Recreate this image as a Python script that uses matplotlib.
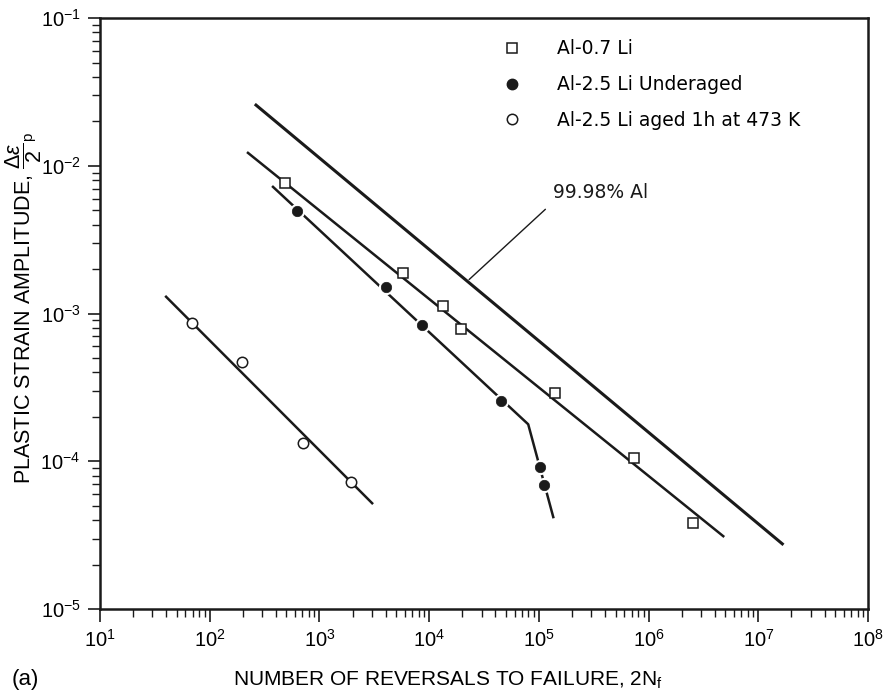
import numpy as np
import matplotlib.pyplot as plt
from matplotlib.lines import Line2D

plt.rcParams['font.family'] = ['Liberation Sans', 'DejaVu Sans']
plt.rcParams['mathtext.fontset'] = 'custom'
plt.rcParams['mathtext.rm'] = 'Liberation Sans'
plt.rcParams['mathtext.it'] = 'Liberation Sans:italic'

# Al-0.7 Li: test points and fitted line
li07_n = [485, 5780, 13400, 19500, 140500, 738000, 2.55e6]
li07_e = [7.68e-3, 1.89e-3, 1.13e-3, 7.92e-4, 2.88e-4, 1.05e-4, 3.81e-5]
li07_fit_n = [223, 4.78e6]
li07_fit_e = [1.225e-2, 3.11e-5]

# Al-2.5 Li underaged: points and bilinear fit
ua_n = [625, 4050, 8600, 45200, 102600, 111500]
ua_e = [4.97e-3, 1.52e-3, 8.43e-4, 2.54e-4, 9.1e-5, 6.9e-5]
ua_fit_n = [377, 79800, 135000]
ua_fit_e = [7.21e-3, 1.78e-4, 4.19e-5]

# Al-2.5 Li aged 1h at 473 K
aged_n = [69, 197, 710, 1940]
aged_e = [8.7e-4, 4.67e-4, 1.34e-4, 7.2e-5]
aged_fit_n = [40, 3020]
aged_fit_e = [1.30e-3, 5.2e-5]

# 99.98% Al reference line
pure_n = [264, 1.65e7]
pure_e = [2.58e-2, 2.76e-5]

INK = '#1a1a1a'
wide = 'DejaVu Sans'

fig = plt.figure(figsize=(8.85, 6.91), dpi=100)
ax = fig.add_axes([0.113, 0.1187, 0.868, 0.855])

ax.plot(pure_n, pure_e, color=INK, lw=2.2)
ax.plot(li07_fit_n, li07_fit_e, color=INK, lw=1.8)
ax.plot(ua_fit_n, ua_fit_e, color=INK, lw=1.8)
ax.plot(aged_fit_n, aged_fit_e, color=INK, lw=1.8)

# open symbols cover the line with white fill
ax.plot(li07_n, li07_e, ls='none', marker='s', ms=7.5, mfc='white', mec=INK, mew=1.1)
ax.plot(aged_n, aged_e, ls='none', marker='o', ms=7.5, mfc='white', mec=INK, mew=1.1)
# filled symbols get a white halo so the line breaks around them
ax.plot(ua_n, ua_e, ls='none', marker='o', ms=11, mfc='white', mec='white', mew=0)
ax.plot(ua_n, ua_e, ls='none', marker='o', ms=7.5, mfc=INK, mec=INK, mew=0.5)

ax.annotate('99.98% Al', xy=(23100, 1.70e-3), xytext=(1.35e5, 6.6e-3),
            fontsize=13.5, family=wide, color=INK, va='center', ha='left',
            arrowprops=dict(arrowstyle='-', color=INK, lw=1.0, shrinkA=5, shrinkB=0,
                            relpos=(0, 0.0)))

ax.set_xscale('log')
ax.set_yscale('log')
ax.set_xlim(10, 1e8)
ax.set_ylim(1e-5, 1e-1)

for s in ['left', 'bottom', 'top', 'right']:
    ax.spines[s].set_linewidth(1.8)
    ax.spines[s].set_color(INK)
ax.tick_params(which='both', direction='out', top=False, right=False, color=INK,
               labelsize=14.5, pad=5)
ax.tick_params(which='major', length=9, width=1.2)
ax.tick_params(which='minor', length=6, width=1.0)

ax.set_xlabel('NUMBER OF REVERSALS TO FAILURE, 2N$_\\mathrm{f}$', fontsize=15)
ax.xaxis.set_label_coords(0.453, -0.120)
ax.xaxis.label.set_va('center')
ax.set_ylabel('PLASTIC STRAIN AMPLITUDE, $\\dfrac{\\Delta\\varepsilon}{2}_{\\mathrm{p}}$',
              fontsize=15.5)
ax.yaxis.set_label_coords(-0.1, 0.51)
ax.yaxis.label.set_va('center')
fig.text(0.013, 0.016, '(a)', fontsize=16, ha='left', va='center')

handles = [
    Line2D([], [], ls='none', marker='s', ms=7.5, mfc='white', mec=INK, mew=1.1),
    Line2D([], [], ls='none', marker='o', ms=7.5, mfc=INK, mec=INK),
    Line2D([], [], ls='none', marker='o', ms=7.5, mfc='white', mec=INK, mew=1.1),
]
labels = ['Al-0.7 Li', 'Al-2.5 Li Underaged', 'Al-2.5 Li aged 1h at 473 K']
ax.legend(handles, labels, loc='upper left', bbox_to_anchor=(0.514, 0.977), frameon=False,
          prop={'family': wide, 'size': 13.5}, labelspacing=0.9, handlelength=1.0,
          handletextpad=1.9, borderaxespad=0)

fig.savefig('out.png', dpi=100)
